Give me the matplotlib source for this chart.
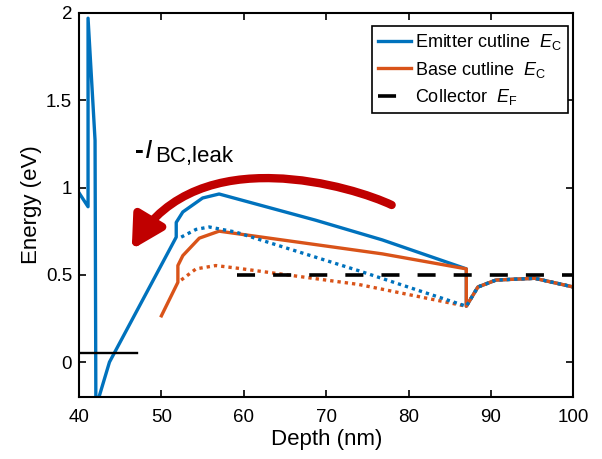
import matplotlib
matplotlib.use("Agg")
import matplotlib.pyplot as plt
from matplotlib.patches import FancyArrowPatch
from matplotlib.path import Path

plt.rcParams['font.family'] = ['Liberation Sans', 'DejaVu Sans']
plt.rcParams['mathtext.fontset'] = 'custom'
plt.rcParams['mathtext.rm'] = 'Liberation Sans'
plt.rcParams['mathtext.it'] = 'Liberation Sans:italic'
plt.rcParams['mathtext.bf'] = 'Liberation Sans:bold'

# emitter cutline E_C (solid)
emitter_x = [40, 41.1, 41.1, 41.95, 42.05, 43.7, 51.8, 51.8, 52.6, 55.0, 57.0, 68.7, 76.8, 87.0, 87.0, 88.4, 90.6, 95.3, 100]
emitter_y = [0.97, 0.89, 1.97, 1.27, -0.26, 0.0, 0.716, 0.80, 0.86, 0.94, 0.963, 0.813, 0.70, 0.534, 0.32, 0.43, 0.47, 0.48, 0.43]

# base cutline E_C (solid)
base_x = [50.0, 52.0, 52.0, 52.6, 54.6, 57.0, 76.8, 87.0, 87.0, 88.4, 90.6, 95.3, 100]
base_y = [0.265, 0.457, 0.553, 0.61, 0.71, 0.75, 0.62, 0.534, 0.32, 0.43, 0.47, 0.48, 0.43]

# dotted curves
emitter_dot_x = [52.4, 54.2, 55.8, 59.0, 73.9, 87.0, 88.4, 90.6, 95.3, 100]
emitter_dot_y = [0.716, 0.76, 0.774, 0.745, 0.524, 0.32, 0.43, 0.47, 0.48, 0.43]
base_dot_x = [52.4, 54.2, 56.6, 59.2, 73.9, 87.0, 88.4, 90.6, 95.3, 100]
base_dot_y = [0.47, 0.534, 0.553, 0.538, 0.445, 0.32, 0.43, 0.47, 0.48, 0.43]

# Fermi levels
collector_x = [59.2, 100]
collector_y = [0.50, 0.50]
emitter_ef_x = [40, 47]
emitter_ef_y = [0.054, 0.054]

# curved leakage arrow (tail, two control points, tip) in data units
arrow_x = [77.94, 73.5, 54.5, 46.4]
arrow_y = [0.90, 1.0, 1.28, 0.645]

blue = '#0072BD'
orange = '#D95319'

fig = plt.figure(figsize=(6.02, 4.59), dpi=100)
ax = fig.add_axes([0.1312, 0.1351, 0.8214, 0.8366])

ax.plot(emitter_x, emitter_y, color=blue, lw=2.4, label=r'Emitter cutline  $\mathit{E}_{\mathrm{C}}$')
ax.plot(base_x, base_y, color=orange, lw=2.4, label=r'Base cutline  $\mathit{E}_{\mathrm{C}}$')
ax.plot(base_dot_x, base_dot_y, color=orange, lw=2.4, ls=(0, (1, 1.2)))
ax.plot(emitter_dot_x, emitter_dot_y, color=blue, lw=2.4, ls=(0, (1, 1.2)))
ax.plot(collector_x, collector_y, color='black', lw=2.6, ls=(0, (5, 5)), label=r'Collector  $\mathit{E}_{\mathrm{F}}$')
ax.plot(emitter_ef_x, emitter_ef_y, color='black', lw=1.7)

arc = Path(list(zip(arrow_x, arrow_y)), [Path.MOVETO, Path.CURVE4, Path.CURVE4, Path.CURVE4])
arrow = FancyArrowPatch(path=arc, arrowstyle='-|>,head_length=0.95,head_width=0.52',
                        mutation_scale=20, lw=6, color='#C00000')
ax.add_patch(arrow)

ax.text(46.75, 1.167, '-', fontsize=19, fontweight='bold')
ax.text(48.0, 1.167, 'I', fontsize=19, fontstyle='italic')
ax.text(49.22, 1.144, 'BC,leak', fontsize=16)

ax.set_xlim(40, 100)
ax.set_ylim(-0.2, 2)
ax.set_xticks([40, 50, 60, 70, 80, 90, 100])
ax.set_yticks([0, 0.5, 1, 1.5, 2])
ax.set_yticklabels(['0', '0.5', '1', '1.5', '2'])
ax.tick_params(direction='in', top=True, right=True, length=5, width=1.2, labelsize=13.5)
ax.tick_params(axis='x', pad=9)
ax.tick_params(axis='y', pad=5)
for s in ax.spines.values():
    s.set_linewidth(1.5)
ax.set_xlabel('Depth (nm)', fontsize=16, labelpad=2)
ax.set_ylabel('Energy (eV)', fontsize=16, labelpad=3)

leg = ax.legend(loc='upper right', bbox_to_anchor=(1.0, 0.98), fontsize=13,
                fancybox=False, edgecolor='black', framealpha=1, handlelength=1.8,
                handletextpad=0.25, borderpad=0.35, borderaxespad=0.3, labelspacing=0.4)
leg.get_frame().set_linewidth(1.2)

fig.savefig('out.png', dpi=100)
